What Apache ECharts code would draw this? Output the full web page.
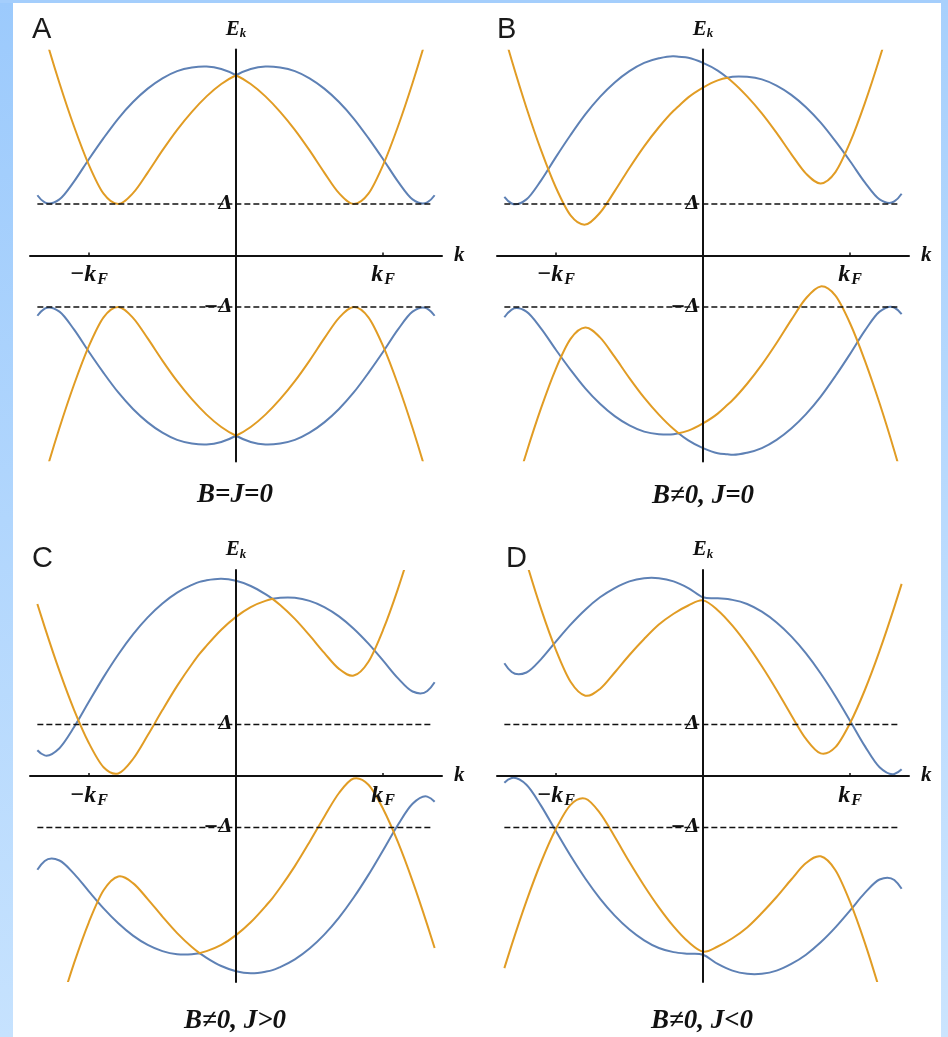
<!DOCTYPE html>
<html>
<head>
<meta charset="utf-8">
<script src="https://cdn.jsdelivr.net/npm/echarts@6/dist/echarts.min.js"></script>
<style>
  html, body { margin: 0; padding: 0; background: #ffffff; }
  #chart { width: 948px; height: 1037px; }
</style>
</head>
<body>
<div id="chart"></div>
<script>
// Momentum samples in units of k_F (B and C carry the extra point where the two branches touch)
const kGrid  = [-1.35,-1.3,-1.2,-1.1,-1.0,-0.9,-0.8,-0.7,-0.6,-0.5,-0.4,-0.3,-0.2,-0.1,0,0.1,0.2,0.3,0.4,0.5,0.6,0.7,0.8,0.9,1.0,1.1,1.2,1.3,1.35];
const kGridB = [-1.35,-1.3,-1.2,-1.1,-1.0,-0.9,-0.8,-0.7,-0.6,-0.5,-0.4,-0.3,-0.2,-0.166,-0.1,0,0.1,0.166,0.2,0.3,0.4,0.5,0.6,0.7,0.8,0.9,1.0,1.1,1.2,1.3,1.35];
const kGridC = [-1.35,-1.3,-1.2,-1.1,-1.0,-0.9,-0.8,-0.7,-0.6,-0.5,-0.4,-0.3,-0.248,-0.2,-0.1,0,0.1,0.2,0.248,0.3,0.4,0.5,0.6,0.7,0.8,0.9,1.0,1.1,1.2,1.3,1.35];

// Quasiparticle energies E_k in units of Δ
// (A) B = J = 0
const blueUpA   = [1.17,1.03,1.09,1.44,1.87,2.28,2.66,2.98,3.24,3.44,3.58,3.65,3.67,3.62,3.50,3.62,3.67,3.65,3.58,3.44,3.24,2.98,2.66,2.28,1.87,1.44,1.09,1.03,1.17];
const orangeUpA = [4.79,4.29,3.35,2.50,1.76,1.20,1.00,1.21,1.61,2.04,2.44,2.79,3.09,3.33,3.50,3.33,3.09,2.79,2.44,2.04,1.61,1.21,1.00,1.20,1.76,2.50,3.35,4.29,4.79];
const blueLoA   = [-1.17,-1.03,-1.09,-1.44,-1.87,-2.28,-2.66,-2.98,-3.24,-3.44,-3.58,-3.65,-3.67,-3.62,-3.50,-3.62,-3.67,-3.65,-3.58,-3.44,-3.24,-2.98,-2.66,-2.28,-1.87,-1.44,-1.09,-1.03,-1.17];
const orangeLoA = [-4.79,-4.29,-3.35,-2.50,-1.76,-1.20,-1.00,-1.21,-1.61,-2.04,-2.44,-2.79,-3.09,-3.33,-3.50,-3.33,-3.09,-2.79,-2.44,-2.04,-1.61,-1.21,-1.00,-1.20,-1.76,-2.50,-3.35,-4.29,-4.79];

// (B) B ≠ 0, J = 0
const blueUpB   = [1.14,1.01,1.09,1.46,1.91,2.34,2.74,3.08,3.36,3.58,3.74,3.83,3.87,3.86,3.84,3.74,3.59,3.45,3.47,3.47,3.42,3.30,3.12,2.88,2.58,2.22,1.83,1.42,1.09,1.05,1.20];
const orangeUpB = [4.28,3.79,2.87,2.04,1.32,0.78,0.60,0.83,1.25,1.70,2.12,2.49,2.81,2.90,3.07,3.26,3.40,3.45,3.37,3.09,2.76,2.38,1.97,1.59,1.40,1.62,2.20,2.96,3.83,4.79,5.30];
const blueLoB   = [-1.20,-1.05,-1.09,-1.42,-1.83,-2.22,-2.58,-2.88,-3.12,-3.30,-3.42,-3.47,-3.47,-3.45,-3.59,-3.74,-3.84,-3.86,-3.87,-3.83,-3.74,-3.58,-3.36,-3.08,-2.74,-2.34,-1.91,-1.46,-1.09,-1.01,-1.14];
const orangeLoB = [-5.30,-4.79,-3.83,-2.96,-2.20,-1.62,-1.40,-1.59,-1.97,-2.38,-2.76,-3.09,-3.37,-3.45,-3.40,-3.26,-3.07,-2.90,-2.81,-2.49,-2.12,-1.70,-1.25,-0.83,-0.60,-0.78,-1.32,-2.04,-2.87,-3.79,-4.28];

// (C) B ≠ 0, J > 0
const blueUpC   = [0.50,0.40,0.54,0.95,1.44,1.92,2.36,2.75,3.08,3.35,3.56,3.71,3.77,3.80,3.83,3.79,3.69,3.53,3.44,3.46,3.46,3.40,3.28,3.10,2.86,2.57,2.24,1.90,1.64,1.65,1.82];
const orangeUpC = [3.34,2.89,2.04,1.28,0.64,0.17,0.05,0.33,0.79,1.28,1.75,2.17,2.37,2.53,2.84,3.09,3.28,3.40,3.44,3.32,3.05,2.73,2.39,2.08,1.95,2.22,2.84,3.63,4.54,5.54,6.06];
const blueLoC   = [-1.82,-1.65,-1.64,-1.90,-2.24,-2.57,-2.86,-3.10,-3.28,-3.40,-3.46,-3.46,-3.44,-3.53,-3.69,-3.79,-3.83,-3.80,-3.77,-3.71,-3.56,-3.35,-3.08,-2.75,-2.36,-1.92,-1.44,-0.95,-0.54,-0.40,-0.50];
const orangeLoC = [-6.06,-5.54,-4.54,-3.63,-2.84,-2.22,-1.95,-2.08,-2.39,-2.73,-3.05,-3.32,-3.44,-3.40,-3.28,-3.09,-2.84,-2.53,-2.37,-2.17,-1.75,-1.28,-0.79,-0.33,-0.05,-0.17,-0.64,-1.28,-2.04,-2.89,-3.34];

// (D) B ≠ 0, J < 0
const blueUpD   = [2.19,2.02,2.01,2.27,2.61,2.94,3.23,3.47,3.65,3.78,3.84,3.84,3.78,3.65,3.47,3.45,3.42,3.34,3.19,2.98,2.71,2.38,1.99,1.55,1.07,0.58,0.17,0.04,0.13];
const orangeUpD = [5.67,5.14,4.15,3.24,2.45,1.83,1.56,1.69,2.01,2.35,2.66,2.94,3.15,3.31,3.41,3.22,2.92,2.55,2.13,1.67,1.18,0.72,0.44,0.56,1.03,1.67,2.43,3.28,3.73];
const blueLoD   = [-0.13,-0.04,-0.17,-0.58,-1.07,-1.55,-1.99,-2.38,-2.71,-2.98,-3.19,-3.34,-3.42,-3.45,-3.47,-3.65,-3.78,-3.84,-3.84,-3.78,-3.65,-3.47,-3.23,-2.94,-2.61,-2.27,-2.01,-2.02,-2.19];
const orangeLoD = [-3.73,-3.28,-2.43,-1.67,-1.03,-0.56,-0.44,-0.72,-1.18,-1.67,-2.13,-2.55,-2.92,-3.22,-3.41,-3.31,-3.15,-2.94,-2.66,-2.35,-2.01,-1.69,-1.56,-1.83,-2.45,-3.24,-4.15,-5.14,-5.67];

// Momenta where the two branches touch (kinks), upper and lower half
const touchA = [0, 0];
const touchB = [0.166, -0.166];
const touchC = [0.248, -0.248];
const touchD = [];

// Gap levels ±Δ and the span of their dashed guide lines
const gapLevels = [1, -1];
const gapLabels = ['Δ', '−Δ'];
const gapSpan = [-1.35, 1.33];

// Fermi momentum ticks
const kTickValues = [-1, 1];
const kTickLabels = ['−k', 'k'];

// Panel letters and captions
const panelLetters = ['A', 'B', 'C', 'D'];
const panelCaptions = ['B=J=0', 'B≠0, J=0', 'B≠0, J>0', 'B≠0, J<0'];

const panelData = [
  { k: kGrid,  blueUp: blueUpA, orangeUp: orangeUpA, blueLo: blueLoA, orangeLo: orangeLoA, touch: touchA },
  { k: kGridB, blueUp: blueUpB, orangeUp: orangeUpB, blueLo: blueLoB, orangeLo: orangeLoB, touch: touchB },
  { k: kGridC, blueUp: blueUpC, orangeUp: orangeUpC, blueLo: blueLoC, orangeLo: orangeLoC, touch: touchC },
  { k: kGrid,  blueUp: blueUpD, orangeUp: orangeUpD, blueLo: blueLoD, orangeLo: orangeLoD, touch: touchD }
];

// ---- layout & style ----
const SERIF = '"Liberation Serif", "DejaVu Serif", "Times New Roman", serif';
const GREEK = '"DejaVu Serif", "Liberation Serif", serif';
const SANS = '"Liberation Sans", Arial, sans-serif';
const BLUE = '#5E81B5';
const ORANGE = '#E19C24';
const INK = '#111111';
const gridBoxes = [
  { left: 30,  top: 49.5 },
  { left: 497, top: 49.5 },
  { left: 30,  top: 570 },
  { left: 497, top: 570 }
];
const GRID_SIZE = 412;
const letterPos = [[32, 30], [497, 30], [32, 559], [506, 559]];
const captionPos = [[235, 495], [703, 496], [235, 1021], [702, 1021]];

const boldItalic = { fontFamily: SERIF, fontStyle: 'italic', fontWeight: 'bold', color: INK };

// Cubic Hermite path through pixel points; slopes from local parabolas,
// one-sided at the kink indices so the touching points stay sharp.
function hermitePath(pts, kinks) {
  const n = pts.length;
  const h = [], s = [];
  for (let i = 0; i < n - 1; i++) {
    h[i] = pts[i + 1][0] - pts[i][0];
    s[i] = (pts[i + 1][1] - pts[i][1]) / h[i];
  }
  const leftEnd = i => s[i] - h[i] * (s[i + 1] - s[i]) / (h[i] + h[i + 1]);
  const rightEnd = i => s[i] + h[i] * (s[i] - s[i - 1]) / (h[i - 1] + h[i]);
  const mL = [], mR = [];
  for (let i = 0; i < n; i++) {
    if (i === 0) { mL[i] = mR[i] = leftEnd(0); }
    else if (i === n - 1) { mL[i] = mR[i] = rightEnd(n - 2); }
    else if (kinks.has(i)) {
      mL[i] = i >= 2 ? rightEnd(i - 1) : s[i - 1];
      mR[i] = i <= n - 3 ? leftEnd(i) : s[i];
    } else {
      mL[i] = mR[i] = (h[i - 1] * s[i] + h[i] * s[i - 1]) / (h[i - 1] + h[i]);
    }
  }
  let d = 'M' + pts[0][0].toFixed(2) + ' ' + pts[0][1].toFixed(2);
  for (let i = 0; i < n - 1; i++) {
    const t = h[i] / 3;
    d += ' C' + (pts[i][0] + t).toFixed(2) + ' ' + (pts[i][1] + mR[i] * t).toFixed(2) +
         ' ' + (pts[i + 1][0] - t).toFixed(2) + ' ' + (pts[i + 1][1] - mL[i + 1] * t).toFixed(2) +
         ' ' + pts[i + 1][0].toFixed(2) + ' ' + pts[i + 1][1].toFixed(2);
  }
  return d;
}

const grids = [], xAxes = [], yAxes = [], series = [];

panelData.forEach((p, i) => {
  grids.push({ left: gridBoxes[i].left, top: gridBoxes[i].top, width: GRID_SIZE, height: GRID_SIZE, containLabel: false });

  xAxes.push({
    type: 'value', gridIndex: i, min: -1.4, max: 1.4, z: 5,
    axisLine: { show: true, onZero: true, lineStyle: { color: INK, width: 2 } },
    axisTick: { show: true, inside: true, length: 3, customValues: kTickValues, lineStyle: { color: INK, width: 1.5 } },
    axisLabel: { show: false },
    splitLine: { show: false },
    name: 'k', nameLocation: 'end', nameGap: 12,
    nameTextStyle: Object.assign({ fontSize: 21 }, boldItalic)
  });

  yAxes.push({
    type: 'value', gridIndex: i, min: -4, max: 4, z: 5,
    axisLine: { show: true, onZero: true, lineStyle: { color: INK, width: 2 } },
    axisTick: { show: false },
    axisLabel: { show: false },
    splitLine: { show: false },
    name: '{e|E}{s|k}', nameLocation: 'end', nameGap: 9,
    nameTextStyle: {
      align: 'center',
      rich: {
        e: Object.assign({ fontSize: 21, lineHeight: 22 }, boldItalic),
        s: Object.assign({ fontSize: 13, lineHeight: 13, verticalAlign: 'bottom' }, boldItalic)
      }
    }
  });

  const curve = (vals, color, kinkK) => {
    const pairs = p.k.map((k, j) => [k, vals[j]]);
    const kinks = new Set();
    if (kinkK !== undefined) kinks.add(p.k.indexOf(kinkK));
    return {
      type: 'custom', coordinateSystem: 'cartesian2d', xAxisIndex: i, yAxisIndex: i,
      z: 2, silent: true, clip: true,
      data: pairs, encode: { x: 0, y: 1 },
      renderItem: (params, api) => {
        if (params.dataIndex !== 0) return null;
        const px = pairs.map(d => api.coord(d));
        const cs = params.coordSys;
        return {
          type: 'path',
          shape: { pathData: hermitePath(px, kinks) },
          style: { fill: 'none', stroke: color, lineWidth: 2 },
          clipPath: { type: 'rect', shape: { x: cs.x, y: cs.y, width: cs.width, height: cs.height } }
        };
      }
    };
  };
  series.push(
    curve(p.blueUp, BLUE, p.touch[0]), curve(p.blueLo, BLUE, p.touch[1]),
    curve(p.orangeUp, ORANGE, p.touch[0]), curve(p.orangeLo, ORANGE, p.touch[1])
  );

  gapLevels.forEach(level => {
    series.push({
      type: 'line', xAxisIndex: i, yAxisIndex: i, z: 3,
      data: gapSpan.map(k => [k, level]),
      showSymbol: false, silent: true,
      lineStyle: { color: INK, width: 1.6, type: [6, 3] }
    });
  });

  // Δ / −Δ markers next to the energy axis
  series.push({
    type: 'scatter', xAxisIndex: i, yAxisIndex: i, z: 6, silent: true,
    symbolSize: 1, itemStyle: { color: 'rgba(0,0,0,0)', opacity: 1 },
    data: gapLevels.map((v, j) => ({ value: [0, v], label: { formatter: gapLabels[j] } })),
    label: { show: true, position: 'left', distance: 3, fontSize: 18,
      fontFamily: GREEK, fontStyle: 'italic', fontWeight: 'bold', color: INK }
  });

  // ±k_F markers below the momentum axis
  series.push({
    type: 'scatter', xAxisIndex: i, yAxisIndex: i, z: 6, silent: true,
    symbolSize: 1, itemStyle: { color: 'rgba(0,0,0,0)', opacity: 1 },
    data: kTickValues.map((v, j) => ({ value: [v, 0], label: { formatter: '{k|' + kTickLabels[j] + '}{f|F}' } })),
    label: {
      show: true, position: 'bottom', distance: 6,
      rich: {
        k: Object.assign({ fontSize: 24, lineHeight: 26 }, boldItalic),
        f: Object.assign({ fontSize: 16, lineHeight: 15, verticalAlign: 'bottom', padding: [0, 0, 0, 1] }, boldItalic)
      }
    }
  });
});

const graphics = [
  // frame strips
  { type: 'rect', shape: { x: 0, y: 0, width: 13, height: 1037 }, style: {
      fill: new echarts.graphic.LinearGradient(0, 0, 0, 1, [{ offset: 0, color: '#9ccafc' }, { offset: 1, color: '#c6e2fe' }]) }, z: 0 },
  { type: 'rect', shape: { x: 0, y: 0, width: 948, height: 3 }, style: { fill: '#a4cefc' }, z: 0 },
  { type: 'rect', shape: { x: 941, y: 0, width: 7, height: 1037 }, style: {
      fill: new echarts.graphic.LinearGradient(0, 0, 0, 1, [{ offset: 0, color: '#a8d0fc' }, { offset: 1, color: '#cbe4fe' }]) }, z: 0 }
];
panelLetters.forEach((t, i) => {
  graphics.push({ type: 'text', x: letterPos[i][0], y: letterPos[i][1], z: 10,
    style: { text: t, fontFamily: SANS, fontSize: 29, fill: '#1a1a1a', textAlign: 'left', textVerticalAlign: 'middle' } });
});
panelCaptions.forEach((t, i) => {
  graphics.push({ type: 'text', x: captionPos[i][0], y: captionPos[i][1], z: 10,
    style: { text: t, fontFamily: SERIF, fontStyle: 'italic', fontWeight: 'bold', fontSize: 27, fill: INK, textAlign: 'center', textVerticalAlign: 'middle' } });
});

const chart = echarts.init(document.getElementById('chart'), null, { renderer: 'canvas', width: 948, height: 1037 });
chart.setOption({
  backgroundColor: '#ffffff',
  animation: false,
  grid: grids,
  xAxis: xAxes,
  yAxis: yAxes,
  series: series,
  graphic: graphics
});
</script>
</body>
</html>
